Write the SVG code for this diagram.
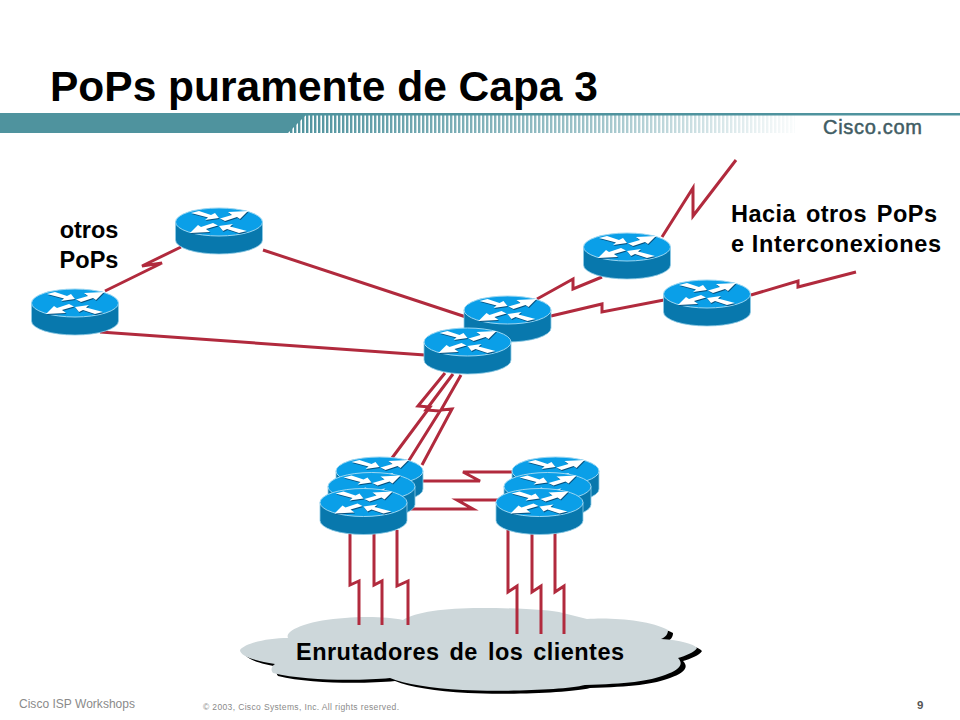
<svg xmlns="http://www.w3.org/2000/svg" width="960" height="720" viewBox="0 0 960 720">
<style>
text{font-family:"Liberation Sans",Arial,sans-serif}
.lbl{font-weight:bold;font-size:23.500px;fill:#000}
.link{fill:none;stroke:#b12a3d;stroke-width:3;stroke-linejoin:miter}
.body{fill:#0878ad;stroke:#8fcbe6;stroke-width:.8}
.top{fill:#0a9fe8;stroke:#9ad6f2;stroke-width:1}
.arr{fill:#fff}
.arrs{fill:#06507e}
</style>
<defs>
<pattern id="st" width="4" height="20" patternUnits="userSpaceOnUse" x="290" y="113"><rect width="2.4" height="20" fill="#4f939e"/></pattern>
<linearGradient id="fade" x1="0" x2="1" y1="0" y2="0"><stop offset="0" stop-color="#fff" stop-opacity="0"/><stop offset=".6" stop-color="#fff" stop-opacity=".45"/><stop offset="1" stop-color="#fff" stop-opacity=".97"/></linearGradient>
<g id="arrows">
<polygon points="-28,-9 -20,-11 -8,-7 -4,-9 0,-4 -14,-2 -11,-4.500"/>
<polygon points="1,-3.500 13,-7 9,-10 29,-11 21,-3 18,-5 6,-1"/>
<polygon points="-1,3.500 -13,7 -9,10 -29,11 -21,3 -18,5 -6,1"/>
<polygon points="28,9 20,11 8,7 4,9 0,4 14,2 11,4.500"/>
</g>
<g id="router">
<path class="body" d="M-43.5,0V18A43.5,14 0 0 0 43.5,18V0Z"/>
<ellipse class="top" rx="43.5" ry="14"/>
<use href="#arrows" class="arrs" x=".6" y="1"/>
<use href="#arrows" class="arr"/>
</g>
<path id="cl" d="M240,650C245,643 268,638 288,638C284,630 310,620 345,618C365,616 390,617 403,620C415,612 445,608 480,608C520,608 550,610 563,613L587,619C610,617 650,620 668,630C668,634 666,637 661,639C680,640 694,644 697,648C695,652 685,656 678,658C684,664 680,670 665,675C650,681 625,684 585,685C565,690 500,692 463,690C430,688 405,684 390,678C360,681 305,681 273,673C270,669 272,666 275,664C255,661 240,656 240,650Z"/>
</defs>
<rect width="960" height="720" fill="#fff"/>
<g id="header">
<rect x="290" y="115" width="505" height="18" fill="url(#st)"/>
<rect x="290" y="113" width="505" height="20.500" fill="url(#fade)"/>
<rect x="0" y="113" width="960" height="2.500" fill="#4f939e"/>
<polygon points="0,113 308,113 288,133 0,133" fill="#4f939e"/>
<text x="823" y="134" font-size="20" fill="#3f5c63" stroke="#3f5c63" stroke-width=".5" textLength="99" lengthAdjust="spacing">Cisco.com</text>
<text id="title" x="50" y="101" font-size="42.500" font-weight="bold" fill="#000">PoPs puramente de Capa 3</text>
</g>
<g id="cloud">
<use href="#cl" x="5" y="3" fill="#000"/>
<use href="#cl" fill="#cdd7da"/>
</g>
<g id="connectors">
<polyline class="link" points="105,291 162,263 142,266 181,247"/>
<polyline class="link" points="263,250 466,317"/>
<polyline class="link" points="100,332 425,355"/>
<polyline class="link" points="537,299 573,279 573,289 602,277"/>
<polyline class="link" points="551,316 602,304 602,312 664,300"/>
<polyline class="link" points="662,237 693,188 693,216 736,160"/>
<polyline class="link" points="751,295 798,281 798,287 856,272"/>
<polyline class="link" points="445,373 418,406 430,407 392,458"/>
<polyline class="link" points="453,374 426,410 440,411 408,462"/>
<polyline class="link" points="461,375 441,410 452,409 422,465"/>
<polyline class="link" points="420,481 480,481 463,472 515,472"/>
<polyline class="link" points="405,509 473,509 457,500 500,500"/>
<polyline class="link" points="350,530 350,585 359,581 359,625"/>
<polyline class="link" points="374,530 374,585 382,581 382,625"/>
<polyline class="link" points="397,530 397,586 408,581 408,625"/>
<polyline class="link" points="508,530 508,592 517,586 517,634"/>
<polyline class="link" points="532,530 532,592 541,586 541,634"/>
<polyline class="link" points="555,530 555,592 564,586 564,634"/>
</g>
<g id="r1"><use href="#router" x="219" y="222"/></g>
<g id="r2"><use href="#router" x="75" y="303"/></g>
<g id="r3"><use href="#router" x="507.500" y="310"/></g>
<g id="r4"><use href="#router" x="467.500" y="342"/></g>
<g id="r5"><use href="#router" x="627" y="247"/></g>
<g id="r6"><use href="#router" x="707" y="294"/></g>
<g id="r7"><use href="#router" x="379.500" y="471"/></g>
<g id="r8"><use href="#router" x="371.500" y="486.500"/></g>
<g id="r9"><use href="#router" x="363.500" y="502.500"/></g>
<g id="r10"><use href="#router" x="555.500" y="471"/></g>
<g id="r11"><use href="#router" x="547.500" y="486.500"/></g>
<g id="r12"><use href="#router" x="539.500" y="502.500"/></g>
<g id="labels">
<text class="lbl" x="89" y="238" text-anchor="middle">otros</text>
<text class="lbl" x="89" y="268" text-anchor="middle">PoPs</text>
<text class="lbl" x="731" y="222" word-spacing="3" textLength="206">Hacia otros PoPs</text>
<text class="lbl" x="731" y="252" textLength="210">e Interconexiones</text>
<text class="lbl" x="296" y="660" word-spacing="3" textLength="328">Enrutadores de los clientes</text>
<text x="19" y="708" font-size="12" fill="#8a8a8a" textLength="116">Cisco ISP Workshops</text>
<text x="203" y="710" font-size="8.500" fill="#8a8a8a" textLength="196">© 2003, Cisco Systems, Inc. All rights reserved.</text>
<text x="917" y="709" font-size="11.500" font-weight="bold" fill="#555">9</text>
</g>
</svg>
